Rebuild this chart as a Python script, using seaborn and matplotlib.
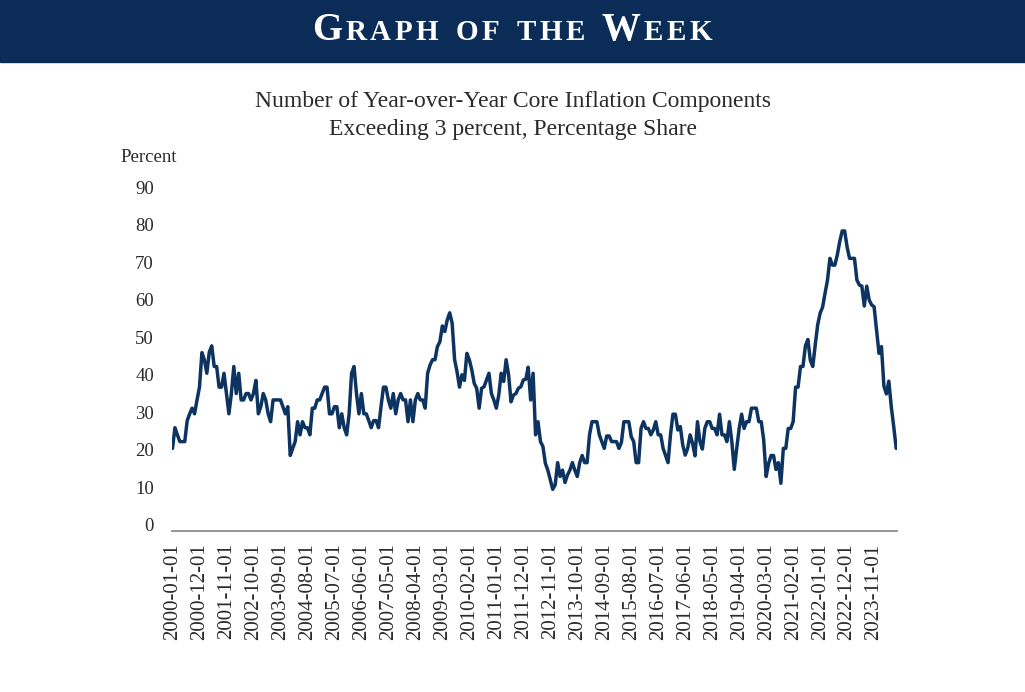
import matplotlib
matplotlib.use('Agg')
from matplotlib import pyplot as plt
import seaborn as sns
import pandas as pd

# share of core inflation components above 3% y/y, monthly from Jan 2000
share = [
    20.4, 25.9, 24.0, 22.2, 22.2, 22.2, 27.8, 29.6, 31.1, 29.6,
    33.3, 36.7, 45.9, 44.0, 40.4, 46.0, 47.7, 42.2, 42.2, 36.7,
    36.7, 40.4, 35.0, 29.6, 35.0, 42.2, 35.0, 40.4, 33.3, 33.3,
    35.0, 35.0, 33.3, 35.0, 38.5, 29.6, 31.5, 35.0, 33.3, 29.6,
    27.5, 33.3, 33.3, 33.3, 33.3, 31.5, 29.6, 31.5, 18.5, 20.4,
    22.2, 27.5, 24.0, 27.5, 25.9, 25.9, 24.0, 31.1, 31.1, 33.3,
    33.3, 35.0, 36.7, 36.7, 29.6, 29.6, 31.5, 31.5, 25.9, 29.6,
    25.9, 24.0, 29.6, 40.4, 42.2, 35.0, 29.6, 35.0, 29.6, 29.6,
    27.8, 25.9, 27.8, 27.8, 25.9, 31.5, 36.7, 36.7, 33.3, 31.1,
    35.0, 29.6, 33.3, 35.0, 33.3, 33.3, 27.5, 33.3, 27.5, 33.3,
    35.0, 33.3, 33.3, 31.1, 40.4, 42.6, 44.0, 44.0, 47.5, 48.8,
    53.0, 51.5, 54.6, 56.5, 53.7, 44.0, 40.8, 36.7, 40.0, 38.5,
    45.7, 44.0, 41.3, 37.7, 36.4, 31.1, 36.4, 36.8, 38.6, 40.4,
    35.0, 33.3, 31.1, 34.6, 40.4, 38.2, 44.0, 40.0, 32.8, 34.6,
    35.0, 36.4, 36.8, 38.6, 38.8, 42.0, 33.3, 40.4, 24.0, 27.5,
    22.2, 20.9, 16.4, 14.6, 12.0, 9.5, 10.7, 16.6, 12.9, 14.6,
    11.3, 13.3, 14.6, 16.6, 14.6, 12.9, 16.6, 18.5, 16.6, 16.6,
    24.0, 27.5, 27.5, 27.5, 24.0, 22.2, 20.4, 23.7, 23.7, 22.2,
    22.2, 22.2, 20.4, 22.0, 27.5, 27.5, 27.5, 23.5, 22.2, 16.6,
    16.6, 25.7, 27.5, 25.7, 25.7, 24.0, 25.3, 27.5, 24.0, 24.0,
    20.4, 18.5, 16.6, 24.0, 29.5, 29.5, 25.3, 26.2, 21.3, 18.6,
    20.4, 24.0, 21.7, 18.4, 27.5, 22.2, 20.2, 25.7, 27.5, 27.5,
    25.7, 25.7, 24.0, 29.5, 24.0, 24.0, 22.2, 27.5, 22.2, 14.8,
    20.4, 25.7, 29.5, 25.7, 27.5, 27.5, 31.1, 31.1, 31.1, 27.5,
    27.5, 22.6, 12.9, 16.4, 18.5, 18.5, 14.8, 16.6, 11.1, 20.4,
    20.4, 25.7, 25.7, 27.5, 36.7, 36.7, 42.2, 42.2, 47.7, 49.4,
    43.9, 42.2, 47.9, 53.3, 56.4, 58.0, 61.7, 65.2, 71.0, 69.2,
    69.2, 71.9, 75.5, 78.3, 78.3, 74.0, 71.0, 71.0, 71.0, 65.2,
    63.9, 63.6, 58.3, 63.6, 59.9, 58.6, 58.1, 52.0, 45.7, 47.5,
    37.0, 34.9, 38.3, 31.5, 26.2, 20.4,
]
y_ticks = [0, 10, 20, 30, 40, 50, 60, 70, 80, 90]

dates = pd.date_range('2000-01-01', periods=len(share), freq='MS')
df = pd.DataFrame({'month': range(len(share)), 'value': share})
tick_pos = list(range(0, len(share), 11))
tick_labels = [dates[i].strftime('%Y-%m-%d') for i in tick_pos]

navy = '#0b2c57'
serif = ['Liberation Serif', 'DejaVu Serif']

sns.set_style('white')
plt.rcParams['font.family'] = serif

fig = plt.figure(figsize=(10.25, 6.92), dpi=100)
ax = fig.add_axes([0.1678, 0.2327, 0.7070, 0.5079])

sns.lineplot(data=df, x='month', y='value', color='#0d3360', linewidth=2.5, ax=ax)

ax.set_xlim(-0.2, 295.2)
ax.set_ylim(-1.6, 92)
ax.set_xticks(tick_pos)
ax.set_xticklabels(tick_labels, rotation=90, fontsize=15)
ax.set_yticks(y_ticks)
ax.set_yticklabels([str(v) for v in y_ticks], fontsize=13.5)
ax.set_xlabel('')
ax.set_ylabel('')
for s in ['top', 'right', 'left']:
    ax.spines[s].set_visible(False)
ax.spines['bottom'].set_color('#8c8c8c')
ax.spines['bottom'].set_linewidth(1.3)
ax.tick_params(axis='x', direction='out', length=4, width=1.2, color='#8c8c8c', pad=5, labelcolor='#2a2a2a')
ax.tick_params(axis='y', length=0, pad=13, labelcolor='#2a2a2a')

fig.text(120 / 1025, 1 - 158 / 692, 'Percent', fontsize=13.5, color='#2a2a2a', va='center', ha='left')
fig.text(513 / 1025, 1 - 102 / 692, 'Number of Year-over-Year Core Inflation Components',
         fontsize=17, color='#2a2a2a', ha='center', va='center')
fig.text(513 / 1025, 1 - 129 / 692, 'Exceeding 3 percent, Percentage Share',
         fontsize=17, color='#2a2a2a', ha='center', va='center')

# header band
fig.patches.append(plt.Rectangle((0, 1 - 62 / 692), 1, 62 / 692, transform=fig.transFigure,
                                 color=navy, zorder=0))

# small caps header, one letter at a time with some tracking
header = 'GRAPH OF THE WEEK'
big = {0, 13}
renderer = fig.canvas.get_renderer()
texts = []
for i, ch in enumerate(header):
    size = 28 if i in big else 21
    t = fig.text(0, 1 - 40 / 692, ch, fontsize=size, color='white', fontweight='bold',
                 ha='left', va='baseline')
    texts.append(t)
track = 3.5
widths = [t.get_window_extent(renderer).width if ch != ' ' else 10.0
          for t, ch in zip(texts, header)]
total = sum(widths) + track * (len(header) - 1)
x = 512 - total / 2
for t, w in zip(texts, widths):
    t.set_x(x / 1025)
    x += w + track

fig.savefig('out.png', dpi=100)
